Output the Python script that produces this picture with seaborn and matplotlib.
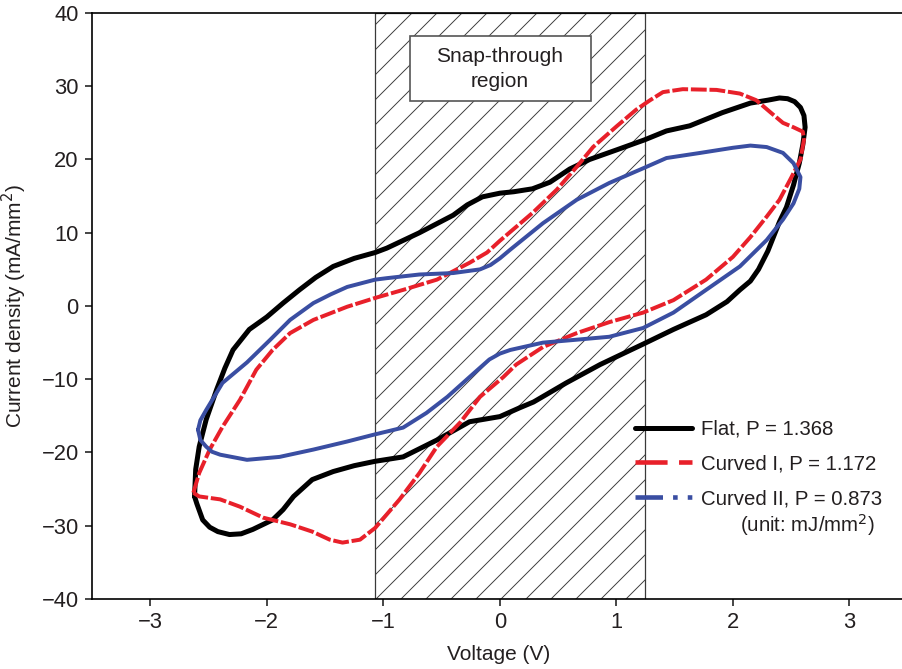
import numpy as np
import pandas as pd
import matplotlib
matplotlib.use("Agg")
import matplotlib.pyplot as plt
import seaborn as sns
from matplotlib.lines import Line2D
from matplotlib.patches import Rectangle

# Hysteresis loops (voltage V, current density mA/mm^2)
flat_v = [-2.62, -2.60, -2.55, -2.49, -2.42, -2.32, -2.22, -2.12, -1.95, -1.86, -1.77, -1.61,
          -1.43, -1.25, -1.07, -0.83, -0.54, -0.26, 0.00, 0.17, 0.29, 0.57, 0.86, 1.23,
          1.49, 1.77, 1.95, 2.06, 2.15, 2.22, 2.30, 2.40, 2.46, 2.52, 2.57, 2.60, 2.62,
          2.61, 2.58, 2.53, 2.47, 2.40, 2.30, 2.15, 1.91, 1.63, 1.43, 1.245, 1.00, 0.77,
          0.60, 0.43, 0.28, 0.12, 0.00, -0.15, -0.28, -0.40, -0.69, -0.97, -1.07, -1.25,
          -1.43, -1.58, -1.72, -1.86, -2.00, -2.15, -2.29, -2.36, -2.43, -2.52, -2.58,
          -2.61, -2.62]
flat_i = [-26.0, -27.0, -29.2, -30.2, -30.8, -31.2, -31.1, -30.5, -29.2, -27.8, -26.0, -23.7,
          -22.6, -21.8, -21.2, -20.6, -18.3, -15.8, -15.1, -13.9, -13.1, -10.5, -8.0, -5.2,
          -3.2, -1.2, 0.6, 2.2, 3.4, 5.0, 7.5, 11.5, 13.5, 16.5, 19.5, 22.0, 24.4,
          26.0, 27.1, 27.9, 28.3, 28.4, 28.1, 27.7, 26.4, 24.6, 23.9, 22.7, 21.3, 20.0,
          18.7, 16.9, 16.0, 15.6, 15.4, 14.9, 13.8, 12.4, 10.0, 7.9, 7.3, 6.5,
          5.4, 3.9, 2.2, 0.4, -1.5, -3.2, -6.0, -8.5, -11.4, -15.5, -19.2,
          -22.3, -26.0]

curved1_v = [-2.63, -2.58, -2.40, -2.23, -2.03, -1.80, -1.61, -1.46, -1.35, -1.20, -1.07,
             -0.86, -0.69, -0.54, -0.34, -0.17, 0.03, 0.14, 0.37, 0.66, 0.94, 1.23, 1.49,
             1.77, 2.00, 2.15, 2.29, 2.40, 2.50, 2.58, 2.61, 2.60, 2.52, 2.43, 2.34, 2.20,
             2.06, 1.86, 1.57, 1.40, 1.29, 1.17, 1.00, 0.80, 0.66, 0.49, 0.28, 0.00,
             -0.11, -0.26, -0.54, -0.83, -1.07, -1.31, -1.60, -1.80, -1.95, -2.09, -2.23,
             -2.38, -2.49, -2.58, -2.63]
curved1_i = [-25.5, -26.0, -26.4, -27.4, -28.9, -29.8, -30.8, -31.9, -32.3, -31.9, -30.3,
             -26.4, -22.8, -19.2, -15.9, -12.4, -9.7, -8.0, -5.6, -3.7, -2.2, -0.9, 0.8,
             3.6, 6.7, 9.4, 12.2, 14.5, 17.5, 20.0, 22.7, 23.8, 24.4, 25.0, 26.2, 28.1,
             29.0, 29.5, 29.6, 29.2, 28.1, 26.8, 24.5, 21.7, 19.0, 15.9, 12.7, 8.9,
             7.3, 5.9, 3.6, 2.2, 1.1, -0.1, -1.9, -3.7, -6.0, -8.7, -12.8,
             -16.5, -19.6, -22.8, -25.5]

curved2_v = [-2.59, -2.57, -2.52, -2.47, -2.40, -2.17, -1.89, -1.60, -1.31, -1.09, -0.83,
             -0.63, -0.45, -0.26, -0.09, 0.00, 0.09, 0.37, 0.66, 0.94, 1.23, 1.49, 1.77, 2.06,
             2.29, 2.43, 2.52, 2.57, 2.58, 2.52, 2.43, 2.29, 2.15, 2.00, 1.72, 1.43, 1.23,
             0.94, 0.66, 0.37, 0.09, 0.00, -0.08, -0.17, -0.40, -0.69, -0.97, -1.07, -1.31,
             -1.45, -1.60, -1.80, -1.97, -2.17, -2.38, -2.52, -2.57, -2.59]
curved2_i = [-16.9, -18.3, -19.2, -19.9, -20.3, -21.0, -20.6, -19.6, -18.5, -17.6, -16.6,
             -14.6, -12.4, -9.7, -7.3, -6.5, -6.0, -5.0, -4.6, -4.2, -3.0, -0.9, 2.2, 5.4,
             9.0, 11.8, 14.0, 16.0, 17.6, 19.5, 20.9, 21.7, 21.9, 21.6, 20.9, 20.2, 18.8,
             16.8, 14.5, 11.3, 7.7, 6.5, 5.6, 5.0, 4.5, 4.3, 3.8, 3.6, 2.6,
             1.6, 0.4, -1.9, -4.6, -7.7, -10.5, -14.2, -15.6, -16.9]

labels = ["Flat, P = 1.368", "Curved I, P = 1.172", "Curved II, P = 0.873"]
snap_lo, snap_hi = -1.07, 1.245

black = "#000000"
red = "#e8202a"
blue = "#3a4ea2"
text_col = "#231f20"

sns.set_style("ticks")
plt.rcParams["font.family"] = ["Liberation Sans", "DejaVu Sans"]
plt.rcParams["hatch.linewidth"] = 0.45
plt.rcParams["axes.linewidth"] = 0.8

fig = plt.figure(figsize=(903 / 150, 669 / 150), dpi=150)
ax = fig.add_axes([92 / 903, 1 - 599 / 669, (903 - 92) / 903, 586 / 669])

# snap-through region
ax.axvspan(snap_lo, snap_hi, facecolor="none", edgecolor="#3a3a3a", hatch="//", lw=0.6, zorder=0)

loops = [(flat_v, flat_i, black, 2.4, "-"),
         (curved1_v, curved1_i, red, 1.9, (0, (4, 0.7))),
         (curved2_v, curved2_i, blue, 1.9, "-")]
for v, i, col, lw, ls in loops:
    df = pd.DataFrame({"V": v, "I": i})
    sns.lineplot(data=df, x="V", y="I", sort=False, estimator=None, color=col,
                 lw=lw, linestyle=ls, ax=ax, zorder=3,
                 solid_joinstyle="round", dash_joinstyle="round")

ax.set_xlim(-3.5, 3.46)
ax.set_ylim(-40, 40)
ax.set_xticks([-3, -2, -1, 0, 1, 2, 3])
ax.set_yticks(np.arange(-40, 41, 10))
ax.set_xticklabels(["\u22123", "\u22122", "\u22121", "0", "1", "2", "3"])
ax.set_yticklabels(["\u221240", "\u221230", "\u221220", "\u221210", "0", "10", "20", "30", "40"])
ax.tick_params(axis="both", direction="out", length=3.4, width=0.8, labelsize=10.5,
               labelcolor=text_col, pad=3)
ax.spines["right"].set_visible(False)
for s in ["left", "top", "bottom"]:
    ax.spines[s].set_color("black")

ax.set_xlabel("Voltage (V)", fontsize=10, color=text_col)
ax.set_ylabel("Current density (mA/mm$^2$)", fontsize=10, color=text_col)
ax.xaxis.set_label_coords(0.502, -0.0785)
ax.yaxis.set_label_coords(-0.0777, 0.5)

# label box
ax.add_patch(Rectangle((318 / 811, 498 / 586), 181 / 811, 65 / 586, transform=ax.transAxes,
                       facecolor="white", edgecolor="#555555", lw=0.8, zorder=4))
ax.text((500 - 92) / 811, (599 - 69) / 586, "Snap-through\nregion", transform=ax.transAxes,
        ha="center", va="center", fontsize=10, color=text_col, linespacing=1.4, zorder=5)

handles = [Line2D([], [], color=black, lw=2.4, linestyle="-"),
           Line2D([], [], color=red, lw=2.2, linestyle=(0, (7, 2.5))),
           Line2D([], [], color=blue, lw=2.2, linestyle=(0, (6, 2.2, 1, 2.2, 1, 2.2)))]
leg = ax.legend(handles, labels, loc="upper left", bbox_to_anchor=(0.6695, 0.306),
                frameon=False, fontsize=9.8, handlelength=2.8, handletextpad=0.45,
                labelspacing=0.78, borderpad=0, borderaxespad=0)
for t in leg.get_texts():
    t.set_color(text_col)
ax.text(0.799, (599 - 525) / 586, "(unit: mJ/mm$^2$)", transform=ax.transAxes,
        ha="left", va="center", fontsize=9.8, color=text_col)

fig.savefig("out.png", dpi=150)
